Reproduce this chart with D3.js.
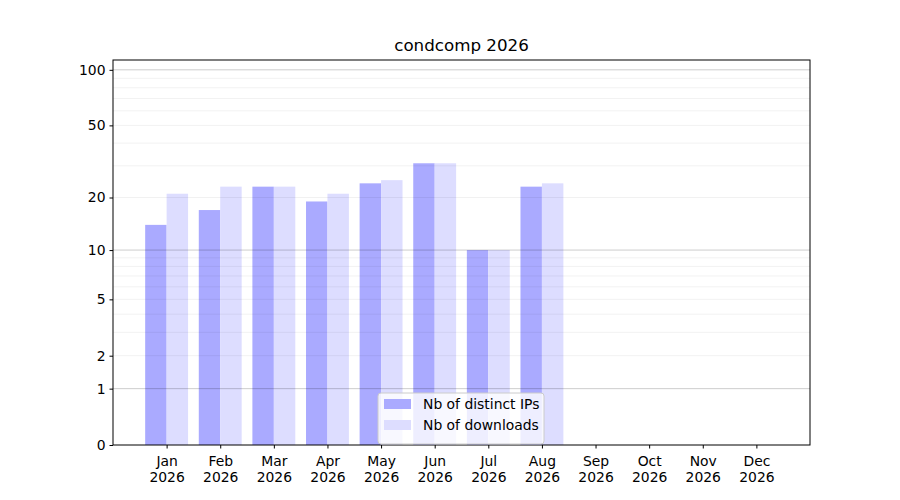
<!DOCTYPE html>
<meta charset="utf-8">
<style>
  body { margin: 0; background: #fff; }
  text { font-family: "DejaVu Sans", sans-serif; }
</style>
<script src="https://d3js.org/d3.v7.min.js"></script>
<div id="chart"></div>
<script>

// chart data
var title = "condcomp 2026";
var months = ["Jan", "Feb", "Mar", "Apr", "May", "Jun", "Jul", "Aug", "Sep", "Oct", "Nov", "Dec"];
var year = "2026";
var distinctIPs = [14, 17, 23, 19, 24, 31, 10, 23, null, null, null, null];
var downloads = [21, 23, 23, 21, 25, 31, 10, 24, null, null, null, null];
var yTicks = [0, 1, 2, 5, 10, 20, 50, 100];
var yMajorGrid = [1, 10, 100];
var yMinorGrid = [2, 3, 4, 5, 6, 7, 8, 9, 20, 30, 40, 50, 60, 70, 80, 90];
var seriesNames = ["Nb of distinct IPs", "Nb of downloads"];
var seriesColors = ["#aaaaff", "#ddddff"];

var W = 900, H = 500;
var margin = {top: 60, right: 90, bottom: 55, left: 113};
var width = W - margin.left - margin.right,
    height = H - margin.top - margin.bottom;
var fs = 13.9;

var svg = d3.select("#chart")
  .append("svg")
    .attr("width", W)
    .attr("height", H)
  .append("g")
    .attr("transform", "translate(" + margin.left + "," + margin.top + ")");

// x: month index, one slot of padding either side
var x = d3.scaleLinear()
  .domain([-1, 12])
  .range([0, width]);

// y: log(1 + v)
var y = d3.scaleSymlog()
  .constant(1)
  .domain([0, 113])
  .range([height, 0]);

var barW = x(0.4) - x(0);

// bars
svg.append("g").selectAll("rect")
  .data(distinctIPs.map(function(v, i) { return {i: i, v: v}; }).filter(function(d) { return d.v != null; }))
  .enter().append("rect")
    .attr("x", function(d) { return x(d.i) - barW; })
    .attr("y", function(d) { return y(d.v); })
    .attr("width", barW)
    .attr("height", function(d) { return y(0) - y(d.v); })
    .attr("fill", seriesColors[0]);

svg.append("g").selectAll("rect")
  .data(downloads.map(function(v, i) { return {i: i, v: v}; }).filter(function(d) { return d.v != null; }))
  .enter().append("rect")
    .attr("x", function(d) { return x(d.i); })
    .attr("y", function(d) { return y(d.v); })
    .attr("width", barW)
    .attr("height", function(d) { return y(0) - y(d.v); })
    .attr("fill", seriesColors[1]);

// grid lines (drawn over the bars, light)
svg.append("g").selectAll("line")
  .data(yMinorGrid)
  .enter().append("line")
    .attr("x1", 0).attr("x2", width)
    .attr("y1", function(d) { return y(d); })
    .attr("y2", function(d) { return y(d); })
    .attr("stroke", "#000")
    .attr("stroke-opacity", 0.07)
    .attr("stroke-width", 0.8);

svg.append("g").selectAll("line")
  .data(yMajorGrid)
  .enter().append("line")
    .attr("x1", 0).attr("x2", width)
    .attr("y1", function(d) { return y(d); })
    .attr("y2", function(d) { return y(d); })
    .attr("stroke", "#000")
    .attr("stroke-opacity", 0.2)
    .attr("stroke-width", 1);

// y axis
var yAxis = svg.append("g")
  .call(d3.axisLeft(y).tickValues(yTicks).tickFormat(d3.format("d")).tickSize(3.5).tickPadding(4));
yAxis.attr("font-size", fs).attr("font-family", "DejaVu Sans");
yAxis.selectAll("text").attr("fill", "#000");

// x axis
var xAxis = svg.append("g")
  .attr("transform", "translate(0," + height + ")")
  .call(d3.axisBottom(x).tickValues(d3.range(12)).tickFormat("").tickSize(3.5));
xAxis.attr("font-size", fs).attr("font-family", "DejaVu Sans");
xAxis.selectAll(".tick").append("text")
  .attr("fill", "#000")
  .attr("text-anchor", "middle")
  .each(function(d) {
    var t = d3.select(this);
    t.append("tspan").attr("x", 0).attr("y", 21).text(months[d]);
    t.append("tspan").attr("x", 0).attr("y", 37).text(year);
  });
svg.selectAll(".domain").remove();

// frame
svg.append("rect")
  .attr("width", width)
  .attr("height", height)
  .attr("fill", "none")
  .attr("stroke", "#000")
  .attr("stroke-width", 1);

// title
svg.append("text")
  .attr("x", width / 2)
  .attr("y", -9)
  .attr("text-anchor", "middle")
  .attr("font-size", 16.7)
  .text(title);

// legend
var lg = svg.append("g")
  .attr("transform", "translate(" + (378 - margin.left) + "," + (393 - margin.top) + ")");
lg.append("rect")
  .attr("width", 166)
  .attr("height", 51)
  .attr("rx", 3)
  .attr("fill", "#fff")
  .attr("fill-opacity", 0.8)
  .attr("stroke", "#ccc");
seriesNames.forEach(function(name, k) {
  lg.append("rect")
    .attr("x", 6)
    .attr("y", 6 + k * 21)
    .attr("width", 27)
    .attr("height", 10)
    .attr("fill", seriesColors[k]);
  lg.append("text")
    .attr("x", 45)
    .attr("y", 16 + k * 21)
    .attr("font-size", fs)
    .text(name);
});

</script>
